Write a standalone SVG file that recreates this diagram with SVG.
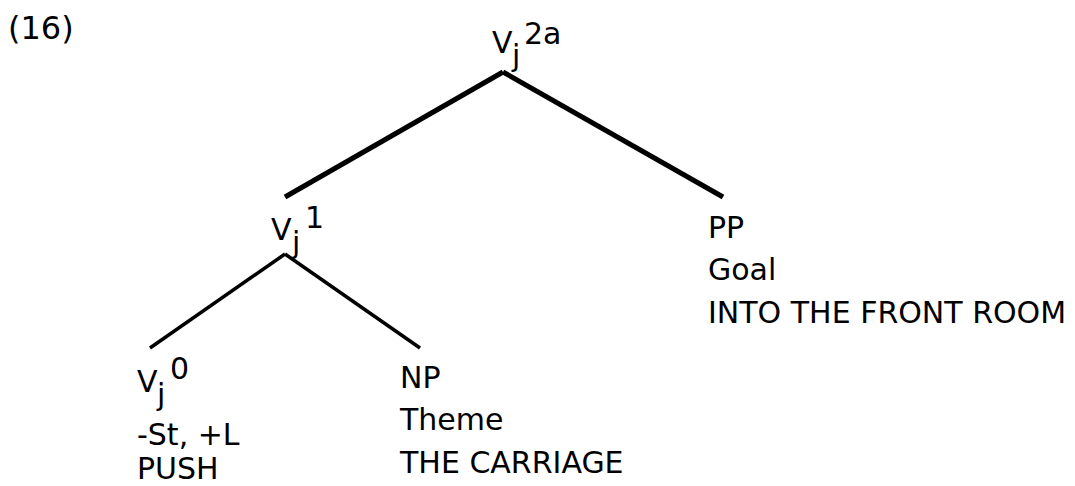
<svg xmlns="http://www.w3.org/2000/svg" width="1075" height="486" viewBox="0 0 1075 486">
<style>
text{font-family:"DejaVu Sans","Verdana",sans-serif;font-size:30px;fill:#000}
.thick{stroke:#000;stroke-width:5;stroke-linecap:butt}
.thin{stroke:#000;stroke-width:3.5;stroke-linecap:butt}
</style>
<rect width="1075" height="486" fill="#fff"/>
<text x="8" y="39" style="font-size:32px">(16)</text>
<g id="connectors">
<line class="thick" x1="503" y1="72" x2="285" y2="197"/>
<line class="thick" x1="503" y1="72" x2="723" y2="197"/>
<line class="thin" x1="285" y1="254" x2="150" y2="348"/>
<line class="thin" x1="285" y1="254" x2="420" y2="348"/>
</g>
<g id="node-vj2a">
<text x="492" y="53">V</text><text x="512" y="66">j</text><text x="524" y="44">2a</text>
</g>
<g id="node-vj1">
<text x="271" y="240">V</text><text x="292" y="253">j</text><text x="305" y="228">1</text>
</g>
<g id="node-pp">
<text x="708" y="238">PP</text>
<text x="708" y="280">Goal</text>
<text x="708" y="323">INTO THE FRONT ROOM</text>
</g>
<g id="node-vj0">
<text x="137" y="392">V</text><text x="157" y="405">j</text><text x="170" y="379">0</text>
<text x="137" y="445">-St, +L</text>
<text x="137" y="479">PUSH</text>
</g>
<g id="node-np">
<text x="400" y="388">NP</text>
<text x="400" y="430">Theme</text>
<text x="400" y="473">THE CARRIAGE</text>
</g>
</svg>
